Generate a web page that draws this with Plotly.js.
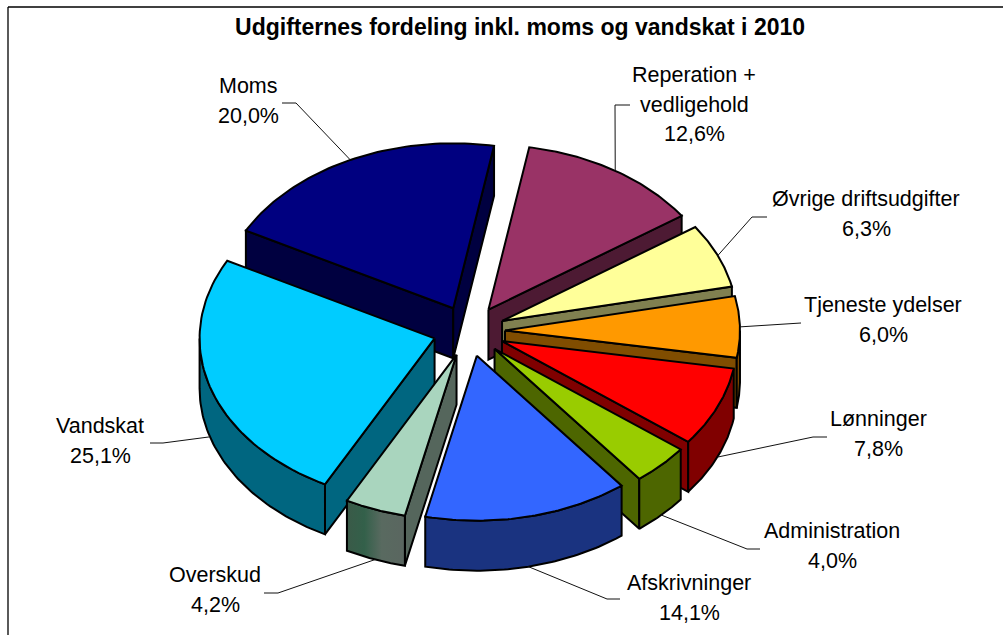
<!DOCTYPE html>
<html><head><meta charset="utf-8">
<script src="https://cdn.plot.ly/plotly-3.0.1.min.js"></script>
<style>html,body{margin:0;padding:0;background:#fff}#c{width:1003px;height:635px}</style>
</head><body><div id="c"></div>
<script>
// Data
const categories = ['Reperation + vedligehold','Øvrige driftsudgifter','Tjeneste ydelser','Lønninger','Administration','Afskrivninger','Overskud','Vandskat','Moms'];
const shares = [12.6,6.3,6.0,7.8,4.0,14.1,4.2,25.1,20.0];
const titleText = 'Udgifternes fordeling inkl. moms og vandskat i 2010';
// Styles
const topColors  = ['#993366','#FFFF99','#FF9900','#FF0000','#99CC00','#3366FF','#A9D5BE','#00CCFF','#000080'];
const sideColors = ['#4D1A33','#808050','#804D00','#800000','#4D6600','#1A3380','#55665C','#006680','#000040'];
const drawOrder = [8,0,1,2,3,4,7,6,5];
const labelLines = [['Reperation +','vedligehold'],['Øvrige driftsudgifter'],['Tjeneste ydelser'],['Lønninger'],['Administration'],['Afskrivninger'],['Overskud'],['Vandskat'],['Moms']];
const labelCenterX = [694,866,883,878,832,689,215,100,248];
const labelTopY    = [75,199,305,419,531,583,575,426,86];
const elbowA = [[615,105],[752,217],[800,323],[813,437],[747,549],[607,599],[278,593],[163,443],[296,103]];
const elbowB = [[630,105],[767,217],[801,323],[827,437],[760,549],[620,599],[264,593],[150,443],[282,103]];

// Geometry of the exploded tilted pie
const cx=469, cy=331, rx=235, ry=165, depth=50, explode=36, startDeg=10;
const total = shares.reduce((a,b)=>a+b,0);
const rad = d=>d*Math.PI/180;
const pt = (a,t,extra)=>[a[0]+rx*Math.sin(rad(t)), a[1]-ry*Math.cos(rad(t))+(extra||0)];

let acc = startDeg;
const slices = shares.map((v,i)=>{
  const s=acc, e=acc+v/total*360; acc=e;
  const m=(s+e)/2;
  const apex=[cx+explode*Math.sin(rad(m)), cy-explode*ry/rx*Math.cos(rad(m))];
  return {i,s,e,m,apex};
});
const arc=(s,e,n=60)=>Array.from({length:n+1},(_,k)=>s+(e-s)*k/n);
const traces=[];
const OVERSKUD=categories.indexOf('Overskud');
const overskudSide={type:'horizontal',colorscale:[[0,'#3A5A48'],[0.3,'#33604A'],[0.6,'#596A60'],[1,'#5A6660']]};
function poly(points,color,grad){
  const t={type:'scatter',mode:'lines',x:points.map(p=>p[0]),y:points.map(p=>p[1]),
    fill:'toself',fillcolor:color,line:{color:'#000',width:2},hoverinfo:'skip',showlegend:false};
  if(grad) t.fillgradient=grad;
  traces.push(t);
}
function norm(d){return ((d%360)+360)%360;}
drawOrder.forEach(idx=>{
  const S=slices[idx], col=sideColors[idx], A=S.apex;
  const wall=t=>{const p=pt(A,t);poly([A,p,[p[0],p[1]+depth],[A[0],A[1]+depth],A],col);};
  if(norm(S.s)>180) wall(S.s);
  if(norm(S.e)<180) wall(S.e);
  const a=Math.max(S.s,90), b=Math.min(S.e,270);
  if(b>a){
    const ts=arc(a,b);
    const top=ts.map(t=>pt(A,t));
    const bot=ts.slice().reverse().map(t=>pt(A,t,depth));
    poly(top.concat(bot,[top[0]]),col,idx===OVERSKUD?overskudSide:null);
  }
  poly([A].concat(arc(S.s,S.e).map(t=>pt(A,t)),[A]),topColors[idx]);
});
// leader lines
slices.forEach(S=>{
  const inFront = norm(S.m)>90 && norm(S.m)<270;
  const p=pt(S.apex,S.m,inFront?depth:0);
  const a=elbowA[S.i], b=elbowB[S.i];
  traces.push({type:'scatter',mode:'lines',x:[p[0],a[0],b[0]],y:[p[1],a[1],b[1]],
    line:{color:'#111',width:1},hoverinfo:'skip',showlegend:false});
});
// labels: one annotation per text line
const annotations=[];
const fmt=v=>v.toFixed(1).replace('.',',')+'%';
const lineGap=29.6;
slices.forEach(S=>{
  const lines=labelLines[S.i].concat([fmt(shares[S.i])]);
  lines.forEach((t,k)=>annotations.push({x:labelCenterX[S.i],y:labelTopY[S.i]+k*lineGap,xref:'x',yref:'y',
    text:t,showarrow:false,xanchor:'center',yanchor:'middle',
    font:{family:'Liberation Sans, Arial, sans-serif',size:21.5,color:'#000'}}));
});
const frame={color:'#000',width:1.3};
const layout={
  width:1003,height:635,margin:{l:0,r:0,t:0,b:0},paper_bgcolor:'#fff',plot_bgcolor:'#fff',
  xaxis:{range:[0,1003],visible:false,fixedrange:true},
  yaxis:{range:[635,0],visible:false,fixedrange:true},
  showlegend:false,
  title:{text:'<b>'+titleText+'</b>',x:0.5185,xanchor:'center',y:0.957,yanchor:'middle',
    font:{family:'Liberation Sans, Arial, sans-serif',size:23,color:'#000'}},
  annotations,
  shapes:[
    {type:'line',xref:'x',yref:'y',x0:8,y0:7,x1:1003,y1:7,line:frame,layer:'below'},
    {type:'line',xref:'x',yref:'y',x0:8,y0:7,x1:8,y1:635,line:frame,layer:'below'}
  ]
};
Plotly.newPlot('c',traces,layout,{displayModeBar:false,staticPlot:true});
</script></body></html>
